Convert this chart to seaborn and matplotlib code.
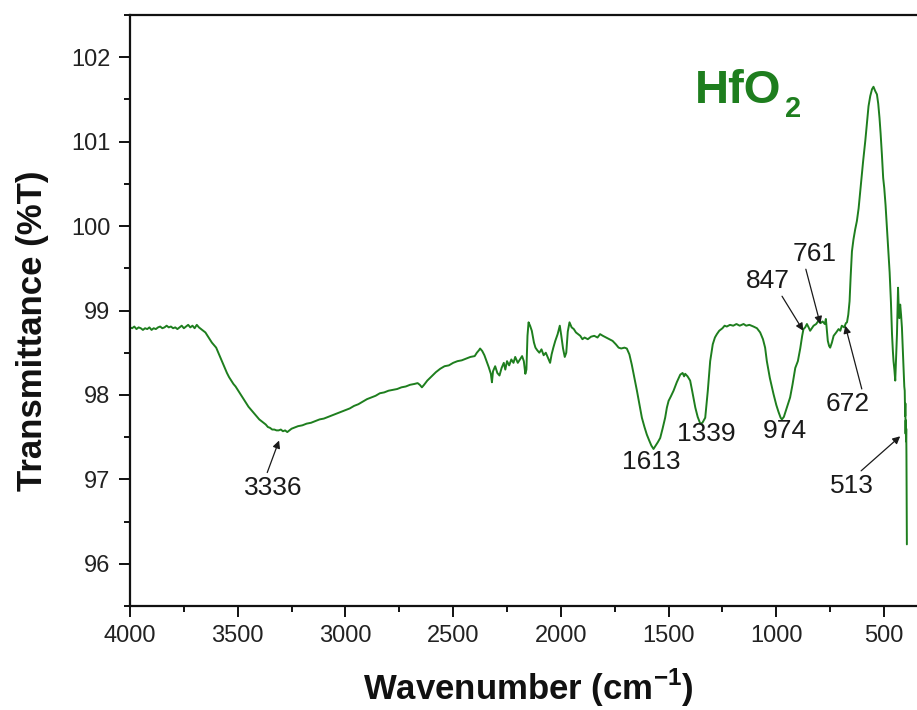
import matplotlib
matplotlib.use("Agg")
import matplotlib.pyplot as plt
import seaborn as sns
import pandas as pd

# ---------------- data ----------------
wavenumber = [
    4000, 3990, 3980, 3970, 3960, 3950, 3940, 3930, 3920, 3910, 3900, 3890, 3880, 3870, 3860,
    3850, 3840, 3830, 3820, 3810, 3800, 3790, 3780, 3770, 3760, 3750, 3740, 3730, 3720, 3710,
    3700, 3690, 3680, 3670, 3660,
    3650, 3640, 3630, 3620, 3610, 3600, 3590, 3580, 3570, 3560, 3550, 3540, 3530, 3520, 3510,
    3500, 3490, 3480, 3470, 3460, 3450, 3440, 3430, 3420, 3410, 3400, 3390, 3380, 3370, 3360,
    3350, 3340, 3330, 3320, 3310, 3300, 3290, 3280, 3270, 3260, 3250,
    3240, 3220, 3200, 3180, 3160, 3140, 3120, 3100, 3080, 3060, 3040, 3020, 3000, 2980, 2960,
    2940, 2920, 2900, 2880, 2860, 2840, 2820, 2800, 2780, 2760, 2740, 2720, 2700, 2680, 2665,
    2655, 2645, 2635, 2620, 2600, 2580, 2560, 2540, 2520, 2500, 2480, 2460, 2440, 2420, 2400,
    2390, 2380, 2375, 2365, 2355, 2345, 2335, 2325, 2320, 2315, 2305, 2295, 2285, 2275, 2265,
    2258, 2250, 2240, 2230, 2220, 2212, 2200, 2190, 2180, 2172, 2165, 2160, 2155, 2150, 2143,
    2135, 2125, 2118, 2110, 2100, 2090, 2080, 2070, 2060, 2050, 2043, 2035, 2026, 2015, 2005,
    1998, 1990, 1982, 1975, 1968, 1960, 1950, 1940, 1930, 1920, 1910, 1900, 1890, 1875, 1860,
    1845, 1830, 1818, 1805, 1790, 1775, 1760, 1745, 1732, 1720, 1705, 1694, 1682, 1671, 1660,
    1647, 1635, 1624, 1612, 1601, 1590, 1580, 1570, 1560, 1550, 1539, 1528, 1516, 1508, 1500,
    1490, 1477, 1462, 1446, 1435, 1428, 1423, 1412, 1400, 1390, 1376, 1365, 1353, 1343, 1330,
    1318, 1307, 1295, 1285, 1276, 1265, 1250, 1240, 1230, 1215, 1200, 1185, 1170, 1152, 1140,
    1125, 1106, 1090, 1075, 1062, 1052, 1044, 1030, 1013, 1000, 990, 980, 974, 965, 955,
    945, 936, 925, 912, 900, 889, 880, 874, 866, 858, 850, 843, 835, 827, 815,
    804, 795, 785, 775, 770, 765, 761, 755, 750, 742, 734, 722, 711, 703, 696,
    685, 677, 672, 666, 660, 655, 649, 642, 634, 626, 618, 610, 603, 597, 587,
    580, 572, 564, 556, 549, 541, 533, 527, 521, 516, 510, 504, 499, 493, 487,
    481, 474, 468, 463, 459, 456, 452, 448, 444, 440, 437, 435, 432, 429, 427,
    425, 421, 417, 413, 409, 406, 404, 402, 401, 400, 399, 398, 397, 396, 395,
    394,
]
transmittance = [
    98.80, 98.79, 98.81, 98.78, 98.80, 98.79, 98.77, 98.79, 98.78, 98.80, 98.77, 98.79, 98.78, 98.80, 98.81,
    98.79, 98.80, 98.82, 98.80, 98.81, 98.79, 98.80, 98.78, 98.80, 98.82, 98.79, 98.81, 98.83, 98.80, 98.82,
    98.79, 98.83, 98.80, 98.78, 98.76,
    98.74, 98.70, 98.66, 98.62, 98.59, 98.56, 98.50, 98.44, 98.38, 98.32, 98.26, 98.21, 98.17, 98.13, 98.10,
    98.06, 98.02, 97.98, 97.94, 97.90, 97.86, 97.83, 97.80, 97.77, 97.74, 97.71, 97.69, 97.67, 97.65, 97.62,
    97.61, 97.59, 97.59, 97.58, 97.58, 97.59, 97.57, 97.58, 97.56, 97.58, 97.60,
    97.61, 97.63, 97.64, 97.66, 97.67, 97.69, 97.71, 97.72, 97.74, 97.76, 97.78, 97.80, 97.82, 97.84, 97.87,
    97.89, 97.92, 97.95, 97.97, 97.99, 98.02, 98.03, 98.05, 98.06, 98.07, 98.09, 98.10, 98.12, 98.13, 98.14,
    98.12, 98.09, 98.12, 98.17, 98.22, 98.27, 98.31, 98.34, 98.35, 98.38, 98.40, 98.41, 98.43, 98.45, 98.46,
    98.50, 98.53, 98.55, 98.52, 98.47, 98.40, 98.33, 98.25, 98.15, 98.28, 98.34, 98.26, 98.23, 98.32, 98.38,
    98.30, 98.40, 98.35, 98.42, 98.38, 98.45, 98.38, 98.42, 98.46, 98.40, 98.25, 98.30, 98.70, 98.86, 98.82,
    98.76, 98.62, 98.56, 98.53, 98.50, 98.54, 98.47, 98.50, 98.44, 98.38, 98.48, 98.56, 98.64, 98.72, 98.82,
    98.70, 98.55, 98.45, 98.50, 98.75, 98.86, 98.80, 98.78, 98.74, 98.72, 98.70, 98.66, 98.68, 98.66, 98.69,
    98.70, 98.68, 98.72, 98.70, 98.68, 98.66, 98.64, 98.60, 98.56, 98.55, 98.56, 98.55, 98.48, 98.36, 98.22,
    98.05, 97.88, 97.73, 97.62, 97.53, 97.46, 97.40, 97.36, 97.40, 97.44, 97.49, 97.60, 97.73, 97.85, 97.93,
    97.98, 98.05, 98.15, 98.24, 98.26, 98.22, 98.25, 98.22, 98.17, 98.04, 97.85, 97.74, 97.66, 97.67, 97.73,
    98.05, 98.40, 98.60, 98.68, 98.72, 98.76, 98.79, 98.82, 98.81, 98.83, 98.82, 98.84, 98.82, 98.84, 98.82,
    98.83, 98.81, 98.79, 98.74, 98.66, 98.56, 98.40, 98.20, 98.01, 97.88, 97.80, 97.73, 97.71, 97.74, 97.82,
    97.90, 97.97, 98.12, 98.32, 98.40, 98.55, 98.70, 98.78, 98.80, 98.84, 98.80, 98.76, 98.79, 98.82, 98.84,
    98.88, 98.85, 98.87, 98.84, 98.90, 98.75, 98.64, 98.58, 98.56, 98.62, 98.70, 98.74, 98.78, 98.76, 98.82,
    98.80, 98.85, 98.86, 98.95, 99.11, 99.40, 99.70, 99.84, 99.96, 100.06, 100.21, 100.42, 100.60, 100.77, 101.01,
    101.20, 101.42, 101.54, 101.62, 101.65, 101.60, 101.56, 101.45, 101.28, 101.10, 100.85, 100.57, 100.45, 100.25, 100.00,
    99.75, 99.45, 99.10, 98.72, 98.52, 98.40, 98.30, 98.17, 98.45, 98.72, 99.05, 99.27, 99.05, 98.91, 99.02,
    99.07, 98.95, 98.80, 98.55, 98.32, 98.10, 98.05, 97.75, 97.90, 97.54, 97.70, 97.45, 97.60, 97.30, 96.80,
    96.23,
]

peak_labels = ["3336", "1613", "1339", "974", "847", "761", "672", "513"]
peak_text_x = [3336, 1581, 1326, 959, 1038, 820, 671, 648]
peak_text_y = [96.90, 97.20, 97.54, 97.57, 99.35, 99.67, 97.89, 96.92]
arrow_tip_x = [3308, None, None, None, 875, 796, 680, 425]
arrow_tip_y = [97.46, None, None, None, 98.76, 98.84, 98.82, 97.51]
arrow_relpos = [(0.38, 1.0), None, None, None, (0.77, 0.0), (0.27, 0.0), (0.85, 1.0), (0.62, 1.0)]

sample_name = "HfO"
x_title = r"Wavenumber (cm$^{\mathbf{-1}}$)"
y_title = "Transmittance (%T)"

# ---------------- style ----------------
sns.set_theme(style="ticks")
plt.rcParams["font.family"] = ["Liberation Sans", "DejaVu Sans"]
plt.rcParams["mathtext.fontset"] = "custom"
plt.rcParams["mathtext.rm"] = "Liberation Sans"
plt.rcParams["mathtext.bf"] = "Liberation Sans:bold"

green = "#1e7e1e"

df = pd.DataFrame({"wavenumber": wavenumber, "transmittance": transmittance})

fig = plt.figure(figsize=(9.17, 7.1), dpi=100)
ax = fig.add_axes([130 / 917, 1 - 606 / 710, 787 / 917, 591 / 710])

sns.lineplot(data=df, x="wavenumber", y="transmittance", ax=ax, color=green,
             linewidth=1.4, estimator=None, sort=False)

ax.set_xlim(4000, 347)
ax.set_ylim(95.5, 102.5)
ax.set_xticks([4000, 3500, 3000, 2500, 2000, 1500, 1000, 500])
ax.set_xticks([3750, 3250, 2750, 2250, 1750, 1250, 750], minor=True)
ax.set_yticks([96, 97, 98, 99, 100, 101, 102])
ax.set_yticks([95.5, 96.5, 97.5, 98.5, 99.5, 100.5, 101.5, 102.5], minor=True)

for side in ["left", "bottom", "top"]:
    ax.spines[side].set_linewidth(1.6)
    ax.spines[side].set_color("#111111")
ax.spines["right"].set_visible(False)

ax.tick_params(which="major", direction="out", length=8, width=1.4,
               labelsize=17, pad=6, colors="#111111", labelcolor="#222222")
ax.tick_params(which="minor", direction="out", length=4.5, width=1.4, colors="#111111")
ax.tick_params(top=False, right=False, which="both")

ax.set_xlabel(x_title, fontsize=25, fontweight="bold", color="#111111")
ax.set_ylabel(y_title, fontsize=25, fontweight="bold", color="#111111")
ax.xaxis.label.set_va("center")
ax.yaxis.label.set_va("center")
ax.xaxis.set_label_coords(0.5057, -0.138)
ax.yaxis.set_label_coords(-0.1245, 0.465)

# sample name with subscript
ax.text(1377, 101.46, sample_name, fontsize=34, fontweight="bold", color=green,
        ha="left", va="baseline")
ax.text(959, 101.22, "2", fontsize=21, fontweight="bold", color=green,
        ha="left", va="bottom")

# peak annotations
for lab, tx, ty, ax_, ay_, rp in zip(peak_labels, peak_text_x, peak_text_y,
                                     arrow_tip_x, arrow_tip_y, arrow_relpos):
    if ax_ is None:
        ax.text(tx, ty, lab, fontsize=19, color="#1a1a1a", ha="center", va="center")
    else:
        ax.annotate(lab, xy=(ax_, ay_), xytext=(tx, ty), fontsize=19, color="#1a1a1a",
                    ha="center", va="center",
                    arrowprops=dict(arrowstyle="-|>", color="#1a1a1a", lw=0.9,
                                    mutation_scale=11, shrinkA=0, shrinkB=0, relpos=rp))

fig.savefig("out.png", dpi=100)
